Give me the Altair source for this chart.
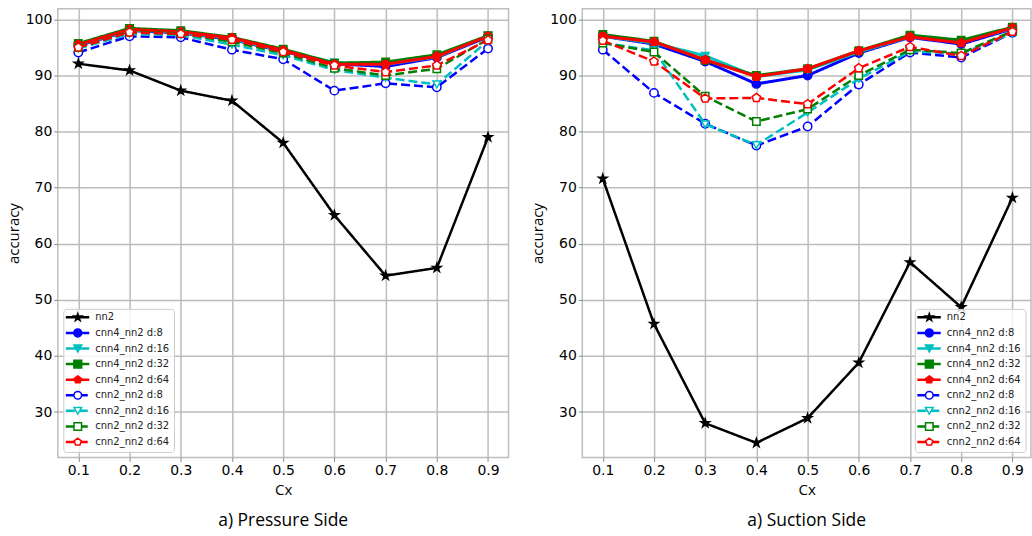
import altair as alt
import pandas as pd

# ---------------- data ----------------
cx = [0.1, 0.2, 0.3, 0.4, 0.5, 0.6, 0.7, 0.8, 0.9]

series_names = [
    "nn2",
    "cnn4_nn2 d:8", "cnn4_nn2 d:16", "cnn4_nn2 d:32", "cnn4_nn2 d:64",
    "cnn2_nn2 d:8", "cnn2_nn2 d:16", "cnn2_nn2 d:32", "cnn2_nn2 d:64",
]

# Pressure side
nn2_p = [92.1, 90.9, 87.3, 85.5, 78.0, 65.1, 54.3, 55.7, 79.0]
cnn4_d8_p = [95.3, 98.0, 97.6, 96.4, 94.3, 92.1, 91.6, 93.2, 96.9]
cnn4_d16_p = [95.4, 98.1, 97.7, 96.5, 94.4, 92.3, 92.0, 93.3, 97.1]
cnn4_d32_p = [95.7, 98.4, 98.0, 96.8, 94.7, 92.2, 92.4, 93.7, 97.1]
cnn4_d64_p = [95.5, 98.2, 97.8, 96.7, 94.5, 92.0, 92.0, 93.4, 97.0]
cnn2_d8_p = [94.1, 97.0, 96.8, 94.6, 92.9, 87.3, 88.6, 87.9, 94.8]
cnn2_d16_p = [94.8, 97.4, 97.2, 95.5, 93.6, 91.0, 89.6, 88.4, 96.2]
cnn2_d32_p = [95.0, 97.8, 97.5, 96.0, 94.0, 91.3, 90.0, 91.2, 96.5]
cnn2_d64_p = [95.0, 97.7, 97.4, 96.4, 94.2, 91.8, 90.6, 91.8, 96.3]

# Suction side
nn2_s = [71.6, 45.7, 28.0, 24.5, 28.9, 38.8, 56.7, 48.7, 68.2]
cnn4_d8_s = [97.0, 95.6, 92.5, 88.5, 90.0, 94.0, 96.8, 95.6, 98.3]
cnn4_d16_s = [97.0, 95.8, 93.5, 89.8, 91.0, 94.2, 96.9, 96.0, 98.4]
cnn4_d32_s = [97.3, 96.1, 92.7, 90.0, 91.2, 94.4, 97.2, 96.3, 98.6]
cnn4_d64_s = [97.0, 96.0, 92.8, 89.8, 91.2, 94.4, 96.9, 95.8, 98.5]
cnn2_d8_s = [94.6, 86.9, 81.4, 77.5, 80.9, 88.4, 94.1, 93.2, 97.6]
cnn2_d16_s = [95.8, 94.5, 81.3, 77.6, 83.4, 89.4, 94.3, 93.9, 97.5]
cnn2_d32_s = [95.8, 94.2, 86.3, 81.8, 84.0, 90.0, 94.6, 94.0, 97.9]
cnn2_d64_s = [96.2, 92.5, 85.9, 86.0, 84.9, 91.3, 95.1, 93.5, 97.8]

pressure = [nn2_p, cnn4_d8_p, cnn4_d16_p, cnn4_d32_p, cnn4_d64_p,
            cnn2_d8_p, cnn2_d16_p, cnn2_d32_p, cnn2_d64_p]
suction = [nn2_s, cnn4_d8_s, cnn4_d16_s, cnn4_d32_s, cnn4_d64_s,
           cnn2_d8_s, cnn2_d16_s, cnn2_d32_s, cnn2_d64_s]

y_ticks = [30, 40, 50, 60, 70, 80, 90, 100]

# ---------------- styles ----------------
STAR = ("M0,-1L0.2245,-0.309L0.9511,-0.309L0.3633,0.118L0.5878,0.809L0,0.382"
        "L-0.5878,0.809L-0.3633,0.118L-0.9511,-0.309L-0.2245,-0.309Z")
PENT = "M0,-1L0.9511,-0.309L0.5878,0.809L-0.5878,0.809L-0.9511,-0.309Z"

colors = ["#000000", "#0000ff", "#00bfbf", "#008000", "#ff0000",
          "#0000ff", "#00bfbf", "#008000", "#ff0000"]
fills = ["#000000", "#0000ff", "#00bfbf", "#008000", "#ff0000",
         "#ffffff", "#ffffff", "#ffffff", "#ffffff"]
shapes = [STAR, "circle", "triangle-down", "square", PENT,
          "circle", "triangle-down", "square", PENT]
sizes = [80, 70, 60, 55, 80, 70, 60, 55, 80]
dashes = [[1, 0]] * 5 + [[9, 4]] * 4
widths = [2.5, 3, 3, 3, 3, 2.5, 2.5, 2.5, 2.5]

GRID = "#bdbdbd"


def panel(values, caption, width, xmax, legend_x0):
    x_enc = alt.X("cx:Q",
                  scale=alt.Scale(domain=[0.06, xmax], nice=False, zero=False),
                  axis=alt.Axis(values=cx, format=".1f", title="Cx",
                                titlePadding=5, labelPadding=2))
    y_enc = alt.Y("acc:Q",
                  scale=alt.Scale(domain=[21.9, 101.9], nice=False, zero=False),
                  axis=alt.Axis(values=y_ticks, title="accuracy",
                                titlePadding=4, labelPadding=2))
    layers = []
    for i, name in enumerate(series_names):
        df = pd.DataFrame({"cx": cx, "acc": values[i], "series": name})
        base = alt.Chart(df).encode(x=x_enc, y=y_enc)
        layers.append(base.mark_line(color=colors[i], strokeWidth=widths[i],
                                     strokeDash=dashes[i]))
        layers.append(base.mark_point(shape=shapes[i], size=sizes[i],
                                      fill=fills[i], stroke=colors[i],
                                      strokeWidth=1.5, opacity=1, fillOpacity=1,
                                      filled=False))
    data_group = alt.layer(*layers)

    # legend (drawn in pixel space inside the plot)
    leg_df = pd.DataFrame({"series": series_names})
    ysc = alt.Scale(type="point", domain=series_names, range=[309.5, 434.5], padding=0)
    leg_y = alt.Y("series:N", scale=ysc, axis=None)
    box = alt.Chart(pd.DataFrame({"a": [0]})).mark_rect(
        fill="white", fillOpacity=0.8, stroke="#cccccc", strokeWidth=1,
        cornerRadius=3).encode(
        x=alt.value(legend_x0), x2=alt.value(legend_x0 + 111),
        y=alt.value(301.5), y2=alt.value(445))
    lbase = alt.Chart(leg_df)
    lrule = lbase.mark_rule(strokeWidth=2.5).encode(
        x=alt.value(legend_x0 + 2), x2=alt.value(legend_x0 + 25.5), y=leg_y,
        stroke=alt.Stroke("series:N", scale=alt.Scale(domain=series_names, range=colors), legend=None),
        strokeDash=alt.StrokeDash("series:N", scale=alt.Scale(domain=series_names, range=dashes), legend=None))
    lpoint = lbase.mark_point(opacity=1, fillOpacity=1, strokeWidth=1.5).encode(
        x=alt.value(legend_x0 + 14), y=leg_y,
        shape=alt.Shape("series:N", scale=alt.Scale(domain=series_names, range=shapes), legend=None),
        stroke=alt.Stroke("series:N", scale=alt.Scale(domain=series_names, range=colors), legend=None),
        fill=alt.Fill("series:N", scale=alt.Scale(domain=series_names, range=fills), legend=None),
        size=alt.Size("series:N", scale=alt.Scale(domain=series_names, range=[v * 0.8 for v in sizes]), legend=None))
    ltext = lbase.mark_text(align="left", baseline="middle", font="DejaVu Sans",
                            fontSize=10, color="#222222").encode(
        x=alt.value(legend_x0 + 31.5), y=leg_y, text="series:N")
    legend_group = alt.layer(box, lrule, lpoint, ltext)

    return alt.layer(data_group, legend_group).resolve_scale(y="independent").properties(
        width=width, height=450,
        title=alt.TitleParams(text=caption, orient="bottom", font="Open Sans",
                              fontSize=17.5, fontWeight="normal", color="black",
                              offset=15, anchor="middle"))


left = panel(pressure, "a) Pressure Side", 452, 0.94, 6)
right = panel(suction, "a) Suction Side", 450, 0.06 + 450 / 513.5, 334)

chart = alt.hconcat(left, right, spacing=20).properties(
    padding={"left": 5, "top": 7, "right": 0, "bottom": 0}
).configure_axis(
    grid=True, gridColor=GRID, gridWidth=1.5, domain=False,
    tickColor="#888888", tickSize=4, tickWidth=1,
    labelFont="DejaVu Sans", labelFontSize=14, labelColor="black",
    titleFont="Open Sans", titleFontSize=15, titleFontWeight="normal",
    titleColor="black",
).configure_view(stroke=GRID, strokeWidth=1.5)

chart.save("out.html", embed_options={"renderer": "svg", "actions": False})
